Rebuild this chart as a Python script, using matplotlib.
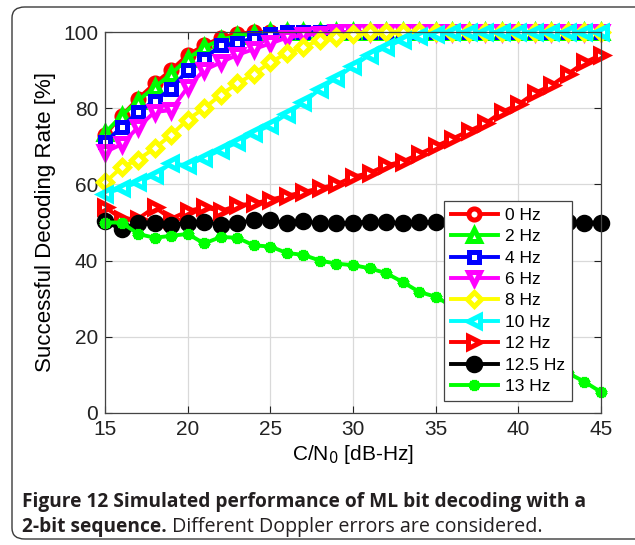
import numpy as np
import matplotlib
matplotlib.use("Agg")
import matplotlib.pyplot as plt
from matplotlib.patches import FancyBboxPatch

plt.rcParams['font.family'] = ['Liberation Sans', 'DejaVu Sans']

# C/N0 grid [dB-Hz]
cn0 = np.arange(15, 46)

rate_0hz = [73, 78, 82.5, 86.5, 90, 94, 96.5, 98.5, 99.5] + [100] * 22
rate_2hz = [73.5, 78, 82, 85.5, 89, 93, 96, 98, 99, 99.5] + [100] * 21
rate_4hz = [71, 75, 79, 82, 85, 90, 93, 96.5, 97, 98.5, 99.5] + [100] * 20
rate_6hz = [68.5, 70.5, 75, 79, 79.5, 85.5, 90, 92, 94, 95.5, 97, 98.5,
            99.2, 99.5] + [100] * 17
rate_8hz = [60.5, 64.5, 66.5, 69.5, 73, 77, 80, 83.5, 86.5, 89, 92, 94.5,
            96, 98, 98.7, 99.5] + [100] * 15
rate_10hz = [57.5, 59, 60.5, 62.5, 65.5, 65, 67, 69, 71, 73.5, 75.5, 78.5,
             81.5, 85, 88, 91, 94, 96, 98, 99, 99.5] + [100] * 10
rate_12hz = [54, 51, 51, 54, 51, 53, 54, 53, 54.5, 55, 56, 57, 58, 59, 60,
             62, 63, 65, 66, 68, 70, 72, 74, 76, 79, 81, 84, 86, 89, 92, 94]
rate_12_5hz = [50.3, 48.2, 50, 50, 49.4, 50, 50.2, 49.4, 49.8, 50.7, 50.7,
               49.8, 50.3, 49.8, 49.8, 50, 50.2, 50.1, 49.8, 50.2, 50.1,
               50, 49.9, 50, 50, 50.1, 50, 49.9, 50.1, 50, 50]
rate_13hz = [50, 50, 47, 46, 46.5, 47, 44.5, 46.2, 46, 44, 43.7, 42, 41.5,
             40, 39.2, 38.8, 38, 36.7, 34.4, 31.8, 30.5, 28, 26, 23.5, 21,
             18.5, 15.5, 13, 10.5, 8.2, 5.5]

labels = ['0 Hz', '2 Hz', '4 Hz', '6 Hz', '8 Hz', '10 Hz', '12 Hz',
          '12.5 Hz', '13 Hz']
series = [rate_0hz, rate_2hz, rate_4hz, rate_6hz, rate_8hz, rate_10hz,
          rate_12hz, rate_12_5hz, rate_13hz]
colors = ['#ff0000', '#00ff00', '#0000ff', '#ff00ff', '#ffff00', '#00ffff',
          '#ff0000', '#000000', '#00ff00']
markers = ['o', '^', 's', 'v', 'D', '<', '>', 'o', (6, 2, 0)]
sizes = [8, 9, 7.5, 9, 7.5, 9, 9, 9, 8]
faces = ['white', 'white', 'white', 'white', 'white', 'white', 'white',
         '#000000', '#00ff00']

fig = plt.figure(figsize=(6.35, 5.45), dpi=100)

# rounded frame around figure and caption
frame = FancyBboxPatch((12 / 635, 6 / 545), 640 / 635, 532 / 545,
                       boxstyle="round,pad=0,rounding_size=0.02",
                       transform=fig.transFigure, fill=False,
                       edgecolor='#3a3a3a', linewidth=1.0)
fig.patches.append(frame)

ax = fig.add_axes([105 / 635, 1 - 413 / 545, 496 / 635, 381 / 545])

for y, lab, c, m, ms, fc in zip(series, labels, colors, markers, sizes, faces):
    ax.plot(cn0, y, color=c, marker=m, markersize=ms, markerfacecolor=fc,
            markeredgecolor=c, markeredgewidth=3.6, linewidth=2.8,
            label=lab, clip_on=False)

ax.set_xlim(15, 45)
ax.set_ylim(0, 100)
ax.set_xticks([15, 20, 25, 30, 35, 40, 45])
ax.set_yticks([0, 20, 40, 60, 80, 100])
ax.grid(True, color='#d9d9d9', linewidth=0.9)
ax.set_axisbelow(True)
ax.tick_params(direction='in', top=True, right=True, length=5,
               labelsize=15, colors='#222222', pad=5)
for sp in ax.spines.values():
    sp.set_color('#444444')
    sp.set_linewidth(0.9)

ax.set_xlabel('C/N$_0$ [dB-Hz]', fontsize=15, labelpad=3)
ax.set_ylabel('Successful Decoding Rate [%]', fontsize=16, labelpad=5)

leg = ax.legend(loc='upper left', bbox_to_anchor=(0.683, 0.557),
                fontsize=12.5, handlelength=2.7, markerscale=1.0,
                fancybox=False, edgecolor='#444444', framealpha=1,
                borderpad=0.4, labelspacing=0.36, handletextpad=0.45,
                borderaxespad=0)
leg.get_frame().set_linewidth(0.9)

# caption
cap_font = ['Open Sans', 'DejaVu Sans']
fig.text(22 / 635, 1 - 507 / 545,
         'Figure 12 Simulated performance of ML bit decoding with a',
         family=cap_font, fontsize=13.8, fontweight='bold', color='#231f20',
         va='baseline', ha='left')
bold2 = fig.text(22 / 635, 1 - 532 / 545, '2-bit sequence.', family=cap_font,
                 fontsize=13.8, fontweight='bold', color='#231f20',
                 va='baseline', ha='left')
ax.annotate(' Different Doppler errors are considered.', xy=(1, 1 - 532 / 545),
            xycoords=(bold2, 'figure fraction'), family=cap_font,
            fontsize=14.2, color='#231f20', va='baseline', ha='left',
            annotation_clip=False)

fig.savefig('out.png', dpi=100)
